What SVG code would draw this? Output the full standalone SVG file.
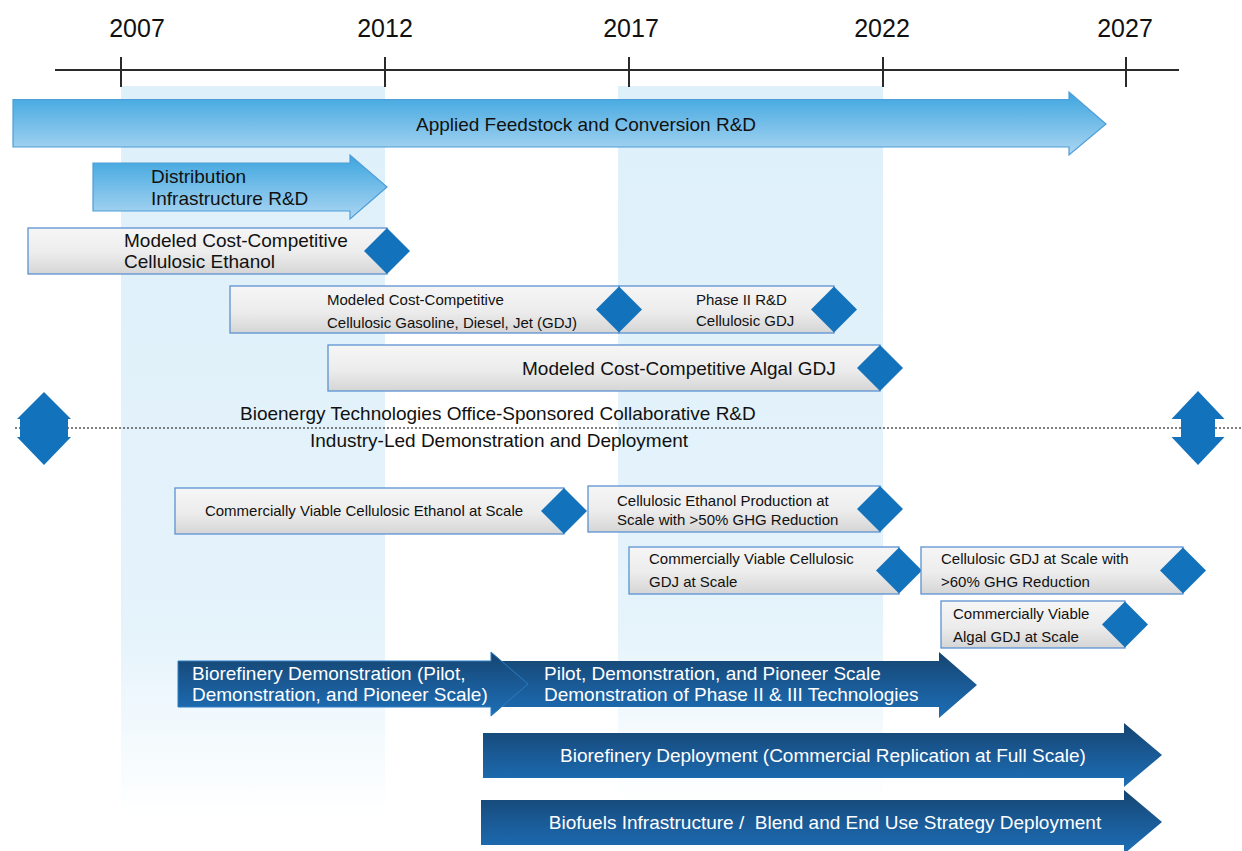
<svg xmlns="http://www.w3.org/2000/svg" width="1242" height="851" viewBox="0 0 1242 851">
<defs>
<linearGradient id="band" x1="0" y1="0" x2="0" y2="1">
<stop offset="0" stop-color="#def0fa"/>
<stop offset="0.75" stop-color="#e5f3fb"/>
<stop offset="1" stop-color="#ffffff"/>
</linearGradient>
<linearGradient id="lb" x1="0" y1="0" x2="0" y2="1">
<stop offset="0" stop-color="#3ca5df"/>
<stop offset="1" stop-color="#acd6f2"/>
</linearGradient>
<linearGradient id="dk" x1="0" y1="0" x2="0" y2="1">
<stop offset="0" stop-color="#15446f"/>
<stop offset="0.5" stop-color="#1a5a96"/>
<stop offset="1" stop-color="#1c6fb6"/>
</linearGradient>
<linearGradient id="gr" x1="0" y1="0" x2="0" y2="1">
<stop offset="0" stop-color="#f6f6f6"/>
<stop offset="0.55" stop-color="#ececec"/>
<stop offset="1" stop-color="#d5d5d5"/>
</linearGradient>
<style>
text{font-family:"Liberation Sans",Arial,sans-serif;fill:#111}
.yr{font-size:25px;text-anchor:middle}
.t19{font-size:19px}
.t15{font-size:15px}
.w{fill:#ffffff}
.mid{text-anchor:middle}
.box{fill:url(#gr);stroke:#5b92d2;stroke-width:1.3}
.dia{fill:#1272bc}
.lba{fill:url(#lb);stroke:#4f9dd8;stroke-width:1.2}
.dka{fill:url(#dk)}
.ax{stroke:#2a2a2a;stroke-width:2;fill:none}
</style>
</defs>
<rect width="1242" height="851" fill="#ffffff"/>
<g id="bands">
<rect x="121" y="86" width="264" height="732" fill="url(#band)"/>
<rect x="618" y="86" width="265" height="718" fill="url(#band)"/>
</g>
<g id="axis">
<line class="ax" x1="55" y1="70" x2="1179" y2="70"/>
<line class="ax" x1="121" y1="57" x2="121" y2="87"/>
<line class="ax" x1="385" y1="57" x2="385" y2="87"/>
<line class="ax" x1="629" y1="57" x2="629" y2="87"/>
<line class="ax" x1="883" y1="57" x2="883" y2="87"/>
<line class="ax" x1="1126" y1="57" x2="1126" y2="87"/>
<text class="yr" x="137" y="37">2007</text>
<text class="yr" x="385" y="37">2012</text>
<text class="yr" x="631" y="37">2017</text>
<text class="yr" x="882" y="37">2022</text>
<text class="yr" x="1125" y="37">2027</text>
</g>
<g id="connectors"></g>
<g id="applied">
<path class="lba" d="M13,99.5 L1069,99.5 L1069,92 L1106,124 L1069,155 L1069,147 L13,147 Z"/>
<text class="t19 mid" x="586" y="131">Applied Feedstock and Conversion R&amp;D</text>
</g>
<g id="distribution">
<path class="lba" d="M93,163 L350,163 L350,155 L387,187 L350,219 L350,211 L93,211 Z"/>
<text class="t19" x="151" y="183">Distribution</text>
<text class="t19" x="151" y="205">Infrastructure R&amp;D</text>
</g>
<g id="cellulosic-ethanol">
<rect class="box" x="28" y="228" width="359" height="46"/>
<path class="dia" d="M387,228 L410,251 L387,274 L364,251 Z"/>
<text class="t19" x="124" y="247">Modeled Cost-Competitive</text>
<text class="t19" x="124" y="268">Cellulosic Ethanol</text>
</g>
<g id="phase2">
<rect class="box" x="619" y="286" width="215" height="47"/>
<path class="dia" d="M834,286.5 L857,309.5 L834,332.5 L811,309.5 Z"/>
<text class="t15" x="696" y="305">Phase II R&amp;D</text>
<text class="t15" x="696" y="326">Cellulosic GDJ</text>
</g>
<g id="cellulosic-gdj">
<rect class="box" x="230" y="286" width="389" height="47"/>
<path class="dia" d="M619,286.5 L642,309.5 L619,332.5 L596,309.5 Z"/>
<text class="t15" x="327" y="305">Modeled Cost-Competitive</text>
<text class="t15" x="327" y="328">Cellulosic Gasoline, Diesel, Jet (GDJ)</text>
</g>
<g id="algal-gdj">
<rect class="box" x="328" y="345" width="552" height="46"/>
<path class="dia" d="M880,345 L903,368 L880,391 L857,368 Z"/>
<text class="t19" x="522" y="375">Modeled Cost-Competitive Algal GDJ</text>
</g>
<g id="divider">
<line x1="15" y1="428" x2="1242" y2="428" stroke="#555" stroke-width="1.5" stroke-dasharray="2 2"/>
<path class="dia" d="M44,392 L71,419 L68,419 L68,437 L71,437 L44,465 L17,437 L20,437 L20,419 L17,419 Z"/>
<path class="dia" d="M1198,391 L1224.5,419 L1215,419 L1215,437 L1224.5,437 L1198,465 L1171.5,437 L1181,437 L1181,419 L1171.5,419 Z"/>
<text class="t19" x="240" y="420">Bioenergy Technologies Office-Sponsored Collaborative R&amp;D</text>
<text class="t19" x="310" y="447">Industry-Led Demonstration and Deployment</text>
</g>
<g id="viable-ethanol">
<rect class="box" x="175" y="488" width="389" height="46"/>
<path class="dia" d="M564,488 L587,511 L564,534 L541,511 Z"/>
<text class="t15 mid" x="364" y="516">Commercially Viable Cellulosic Ethanol at Scale</text>
</g>
<g id="ethanol-ghg">
<rect class="box" x="588" y="486" width="292" height="46"/>
<path class="dia" d="M880,486 L903,509 L880,532 L857,509 Z"/>
<text class="t15" x="617" y="506">Cellulosic Ethanol Production at</text>
<text class="t15" x="617" y="525">Scale with &gt;50% GHG Reduction</text>
</g>
<g id="viable-gdj">
<rect class="box" x="629" y="547" width="270" height="47"/>
<path class="dia" d="M899,547.5 L922,570.5 L899,593.5 L876,570.5 Z"/>
<text class="t15" x="649" y="564">Commercially Viable Cellulosic</text>
<text class="t15" x="649" y="587">GDJ at Scale</text>
</g>
<g id="gdj-ghg">
<rect class="box" x="921" y="547" width="262" height="47"/>
<path class="dia" d="M1183,547.5 L1206,570.5 L1183,593.5 L1160,570.5 Z"/>
<text class="t15" x="941" y="564">Cellulosic GDJ at Scale with</text>
<text class="t15" x="941" y="587">&gt;60% GHG Reduction</text>
</g>
<g id="viable-algal">
<rect class="box" x="941" y="601" width="184" height="47"/>
<path class="dia" d="M1125,601.5 L1148,624.5 L1125,647.5 L1102,624.5 Z"/>
<text class="t15" x="953" y="619">Commercially Viable</text>
<text class="t15" x="953" y="642">Algal GDJ at Scale</text>
</g>
<g id="pilot-phase">
<path class="dka" d="M485,661 L939,661 L939,652 L977,685 L939,718 L939,707 L485,707 Z"/>
<text class="t19 w" x="544" y="680">Pilot, Demonstration, and Pioneer Scale</text>
<text class="t19 w" x="544" y="701">Demonstration of Phase II &amp; III Technologies</text>
</g>
<g id="biorefinery-demo">
<path class="dka" stroke="#2c7cc2" stroke-width="1" d="M178,661 L491,661 L491,652 L528,684 L491,716 L491,707 L178,707 Z"/>
<text class="t19 w" x="192" y="680">Biorefinery Demonstration (Pilot,</text>
<text class="t19 w" x="192" y="701">Demonstration, and Pioneer Scale)</text>
</g>
<g id="deployment">
<path class="dka" d="M483,733 L1124,733 L1124,723 L1162,755 L1124,787 L1124,778 L483,778 Z"/>
<text class="t19 w mid" x="823" y="762">Biorefinery Deployment (Commercial Replication at Full Scale)</text>
</g>
<g id="infrastructure">
<path class="dka" d="M481,800 L1124,800 L1124,790 L1162,822 L1124,854 L1124,845 L481,845 Z"/>
<text class="t19 w mid" x="825" y="829" style="white-space:pre">Biofuels Infrastructure /  Blend and End Use Strategy Deployment</text>
</g>
</svg>
